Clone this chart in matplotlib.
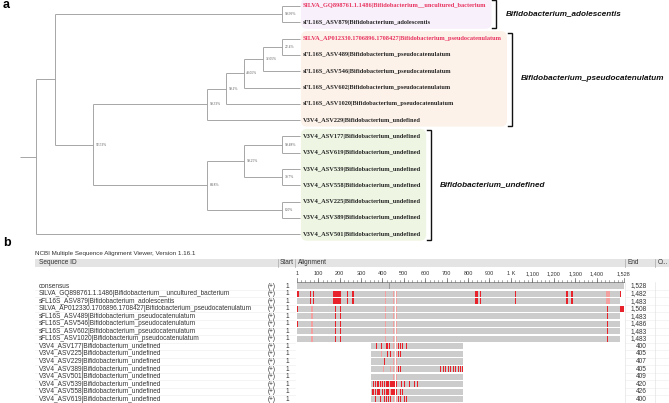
import matplotlib
matplotlib.use("Agg")
import matplotlib.pyplot as plt
from matplotlib import transforms
from matplotlib.patches import FancyBboxPatch

W, H = 669, 403

# ---------------- panel a : tree ----------------
leaf_names = [
    "SILVA_GQ898761.1.1486|Bifidobacterium__uncultured_bacterium",
    "sFL16S_ASV879|Bifidobacterium_adolescentis",
    "SILVA_AP012330.1706896.1708427|Bifidobacterium_pseudocatenulatum",
    "sFL16S_ASV489|Bifidobacterium_pseudocatenulatum",
    "sFL16S_ASV546|Bifidobacterium_pseudocatenulatum",
    "sFL16S_ASV602|Bifidobacterium_pseudocatenulatum",
    "sFL16S_ASV1020|Bifidobacterium_pseudocatenulatum",
    "V3V4_ASV229|Bifidobacterium_undefined",
    "V3V4_ASV177|Bifidobacterium_undefined",
    "V3V4_ASV619|Bifidobacterium_undefined",
    "V3V4_ASV539|Bifidobacterium_undefined",
    "V3V4_ASV558|Bifidobacterium_undefined",
    "V3V4_ASV225|Bifidobacterium_undefined",
    "V3V4_ASV389|Bifidobacterium_undefined",
    "V3V4_ASV501|Bifidobacterium_undefined",
]
reference_leaves = [0, 2]

# (node depth, bootstrap, children) ; an int child is a leaf index
tree = (0.0, None, [
    (1.01, None, [
        (13.09, "99.99%", [0, 1]),
        (3.03, "92.53%", [
            (9.10, "99.33%", [
                (10.11, "99.1%", [
                    (11.06, "48.05%", [
                        (12.07, "32.05%", [
                            (13.09, "22.4%", [2, 3]), 4]), 5]), 6]), 7]),
            (9.10, "84.8%", [
                (11.06, "99.25%", [
                    (13.09, "99.48%", [8, 9]),
                    (13.09, "30.7%", [10, 11])]),
                (13.09, "100%", [12, 13])])])]),
    14])
tip_depth = 14.04
root_stub = -0.85

group_names = ["Bifidobacterium_adolescentis",
               "Bifidobacterium_pseudocatenulatum",
               "Bifidobacterium_undefined"]
group_leaves = [(0, 1), (2, 7), (8, 14)]
group_fill = ["#f8f0fb", "#fdf2e9", "#eef6e3"]

# ---------------- panel b : alignment ----------------
aln_len = 1528
msa_ids = ["consensus",
           "SILVA_GQ898761.1.1486|Bifidobacterium__uncultured_bacterium",
           "sFL16S_ASV879|Bifidobacterium_adolescentis",
           "SILVA_AP012330.1706896.1708427|Bifidobacterium_pseudocatenulatum",
           "sFL16S_ASV489|Bifidobacterium_pseudocatenulatum",
           "sFL16S_ASV546|Bifidobacterium_pseudocatenulatum",
           "sFL16S_ASV602|Bifidobacterium_pseudocatenulatum",
           "sFL16S_ASV1020|Bifidobacterium_pseudocatenulatum",
           "V3V4_ASV177|Bifidobacterium_undefined",
           "V3V4_ASV225|Bifidobacterium_undefined",
           "V3V4_ASV229|Bifidobacterium_undefined",
           "V3V4_ASV389|Bifidobacterium_undefined",
           "V3V4_ASV501|Bifidobacterium_undefined",
           "V3V4_ASV539|Bifidobacterium_undefined",
           "V3V4_ASV558|Bifidobacterium_undefined",
           "V3V4_ASV619|Bifidobacterium_undefined"]
msa_start = [1] * 16
msa_end = [1528, 1482, 1483, 1508, 1483, 1486, 1483, 1483,
           400, 405, 407, 405, 409, 420, 426, 400]
# aligned column range covered by each row
msa_span = [(1, 1528), (1, 1510), (1, 1510), (1, 1528), (1, 1510), (1, 1510), (1, 1510), (1, 1510),
            (347, 778), (347, 778), (347, 778), (347, 778), (347, 778), (347, 778), (347, 778), (347, 778)]
gap_cols = (457, 461)
ruler_ticks = [1, 100, 200, 300, 400, 500, 600, 700, 800, 900, 1000, 1100, 1200, 1300, 1400, 1528]
ruler_labels = ["1", "100", "200", "300", "400", "500", "600", "700", "800", "900",
                "1 K", "1,100", "1,200", "1,300", "1,400", "1,528"]

full_common = [(63, 63), (77, 77), (171, 207), (238, 238), (260, 260), (264, 264),
               (833, 833), (841, 841), (856, 856), (1020, 1020),
               (1258, 1258), (1266, 1266), (1285, 1285)]
pseudo_common = [(178, 178), (202, 202), (1452, 1452)]
mism_strong = [
    [],
    [(1, 1), (9, 9)] + full_common + [(1510, 1510)],
    full_common,
    [(1, 1)] + pseudo_common + [(1510, 1528)],
    pseudo_common,
    [(1, 1)] + pseudo_common,
    pseudo_common,
    pseudo_common,
    [(370, 370), (397, 397), (417, 417), (423, 423), (432, 432), (474, 474), (482, 482), (494, 494), (513, 513)],
    [(423, 423), (436, 436), (474, 474), (482, 482)],
    [(408, 408)],
    [(474, 474), (485, 485), (672, 672), (685, 685), (696, 696), (708, 708), (719, 719),
     (731, 731), (742, 742), (753, 753), (762, 762), (772, 772)],
    [],
    [(358, 358), (366, 366), (374, 374), (381, 381), (389, 389), (400, 400), (411, 411),
     (419, 432), (438, 470), (488, 488), (503, 503), (524, 524), (547, 547), (563, 563)],
    [(355, 362), (368, 372), (378, 389), (400, 400), (411, 411), (419, 432), (443, 470),
     (482, 482), (494, 494)],
    [(366, 366), (389, 389), (411, 411), (419, 419), (428, 428), (436, 436), (474, 474),
     (485, 485), (503, 503), (513, 513)],
]
full_faint = [(412, 412), (452, 452), (466, 466)]
mism_faint = [
    [],
    full_faint + [(1445, 1464)],
    full_faint + [(1445, 1464)],
    [(70, 70)] + full_faint,
    [(70, 70)] + full_faint,
    [(70, 70)] + full_faint,
    [(70, 70)] + full_faint,
    [(70, 70)] + full_faint,
    [(452, 452), (466, 466)],
    [(397, 397), (452, 452), (466, 466)],
    [(452, 452), (466, 466)],
    [(406, 406), (436, 436), (452, 452), (466, 466)],
    [(452, 452), (466, 466)],
    [(395, 395)],
    [(436, 436)],
    [(452, 452), (466, 466)],
]
consensus_marks = [432]

# ---------------- figure ----------------
fig = plt.figure(figsize=(W / 100, H / 100), dpi=100)
fig.patch.set_facecolor("white")

# pixel overlay axes for frames / headers
ax_px = fig.add_axes([0, 0, 1, 1])
ax_px.set_xlim(0, W)
ax_px.set_ylim(H, 0)
ax_px.axis("off")

# tree axes: x = node depth, y = leaf index
X0, SX, Y0, SY = 36, 18.8, 6, 16.3
ax_t = fig.add_axes([0, 0, 1, 1])
ax_t.set_xlim(-X0 / SX, (W - X0) / SX)
ax_t.set_ylim((H - Y0) / SY, -Y0 / SY)
ax_t.axis("off")

line_kw = dict(color="#a0a0a0", lw=0.65, solid_capstyle="butt", zorder=3)
sup_tr = transforms.offset_copy(ax_t.transData, fig=fig, x=2.5, y=0, units="dots")
tip_tr = transforms.offset_copy(ax_t.transData, fig=fig, x=3, y=0, units="dots")


def draw_node(node, parent_depth):
    if isinstance(node, int):
        ax_t.plot([parent_depth, tip_depth], [node, node], **line_kw)
        return node
    depth, support, kids = node
    ys = [draw_node(k, depth) for k in kids]
    y = (ys[0] + ys[-1]) / 2
    ax_t.plot([depth, depth], [ys[0], ys[-1]], **line_kw)
    ax_t.plot([parent_depth, depth], [y, y], **line_kw)
    if support:
        ax_t.text(depth, y, support, transform=sup_tr, fontsize=2.6, color="#555555",
                  family="Liberation Serif", va="center", ha="left", zorder=4)
    return y


draw_node(tree, root_stub)

leaf_texts = []
for i, name in enumerate(leaf_names):
    t = ax_t.text(tip_depth, i, name, transform=tip_tr, fontsize=4.6, fontweight="bold",
                  family="Liberation Serif", va="center", ha="left",
                  color="#e8335f" if i in reference_leaves else "#262626", zorder=4)
    leaf_texts.append(t)

fig.canvas.draw()
renderer = fig.canvas.get_renderer()
to_disp = ax_t.transData.transform
tip_px = to_disp((tip_depth, 0))[0]
for gname, (a, b), fill in zip(group_names, group_leaves, group_fill):
    right = max(leaf_texts[k].get_window_extent(renderer).x1 for k in range(a, b + 1)) + 5
    top = H - to_disp((tip_depth, a))[1] - 7.5
    bot = H - to_disp((tip_depth, b))[1] + 6.5
    left = tip_px + 1
    ax_px.add_patch(FancyBboxPatch((left, top), right - left, bot - top,
                                   boxstyle="round,pad=0,rounding_size=6",
                                   fc=fill, ec="none", zorder=0))
    bx = right + 5
    ax_px.plot([bx - 4, bx, bx, bx - 4], [top + 1.5, top + 1.5, bot - 0.5, bot - 0.5],
               color="#111111", lw=1.0, solid_joinstyle="miter")
    ax_px.text(bx + 9, (top + bot) / 2, gname, fontsize=5.9, fontweight="bold",
               fontstyle="italic", family="Liberation Sans", va="center", ha="left",
               color="#111111")

ax_px.text(3, 5, "a", fontsize=9, fontweight="bold", family="Liberation Sans",
           va="center", ha="left")
ax_px.text(3, 243, "b", fontsize=9, fontweight="bold", family="Liberation Sans",
           va="center", ha="left")

# ---------------- panel b ----------------
A0, SA, R0, SR = 297, (624 - 297) / aln_len, 286, 7.55
ax_a = fig.add_axes([0, 0, 1, 1])
ax_a.set_xlim(0.5 - A0 / SA, 0.5 + (W - A0) / SA)
ax_a.set_ylim((H - R0) / SR, -R0 / SR)
ax_a.axis("off")

txt_kw = dict(fontsize=4.7, family="Liberation Sans", color="#333333", va="center")
ax_px.text(35, 253, "NCBI Multiple Sequence Alignment Viewer, Version 1.16.1", ha="left",
           **dict(txt_kw, fontsize=4.5))

# header band
ax_px.add_patch(plt.Rectangle((35, 259), W - 35, 8, fc="#e4e4e4", ec="none", zorder=0))
for sx in [278, 295, 625, 655]:
    ax_px.plot([sx, sx], [259, 267], color="#a8a8a8", lw=0.5)
ax_px.text(39, 263, "Sequence ID", ha="left", **txt_kw)
ax_px.text(280, 263, "Start", ha="left", **txt_kw)
ax_px.text(298, 263, "Alignment", ha="left", **txt_kw)
ax_px.text(628, 263, "End", ha="left", **txt_kw)
ax_px.text(658, 263, "O...", ha="left", **txt_kw)

# ruler
ruler_tr = transforms.blended_transform_factory(ax_a.transData, ax_px.transData)
ax_a.plot([1, aln_len], [282, 282], color="#666666", lw=0.5, transform=ruler_tr)
for c in range(20, aln_len, 20):
    ax_a.plot([c, c], [282, 280.3], color="#666666", lw=0.4, transform=ruler_tr)
for c, lab in zip(ruler_ticks, ruler_labels):
    ax_a.plot([c, c], [282, 278], color="#666666", lw=0.5, transform=ruler_tr)
    ax_a.text(c, 273.5, lab, ha="center", transform=ruler_tr,
              **dict(txt_kw, fontsize=4.0))

# rows
rows = list(range(len(msa_ids)))
row_tr = transforms.blended_transform_factory(ax_px.transData, ax_a.transData)
bar_h = 0.8
mark_w = 5
ax_a.barh(rows, [e - s + 1 for s, e in msa_span], left=[s - 0.5 for s, e in msa_span],
          height=bar_h, color="#cccccc", lw=0)
for r in rows:
    if mism_faint[r]:
        ax_a.barh([r] * len(mism_faint[r]), [max(b - a + 1, mark_w) for a, b in mism_faint[r]],
                  left=[a - 2 for a, b in mism_faint[r]], height=bar_h, color="#f2a0a0", lw=0)
    if mism_strong[r]:
        ax_a.barh([r] * len(mism_strong[r]), [max(b - a + 1, mark_w) for a, b in mism_strong[r]],
                  left=[a - 2 for a, b in mism_strong[r]], height=bar_h, color="#e8222a", lw=0)
ax_a.barh(rows[1:], gap_cols[1] - gap_cols[0] + 1, left=gap_cols[0] - 0.5,
          height=bar_h + 0.05, color="white", lw=0)
ax_a.barh([0] * len(consensus_marks), 4, left=[c - 2 for c in consensus_marks],
          height=bar_h, color="#9a9a9a", lw=0)

for r in rows:
    ax_px.text(39, r, msa_ids[r], ha="left", transform=row_tr, **txt_kw)
    ax_px.text(272, r, "(+)", ha="center", transform=row_tr, **txt_kw)
    ax_px.text(287, r, str(msa_start[r]), ha="center", transform=row_tr, **txt_kw)
    ax_px.text(647, r, f"{msa_end[r]:,}", ha="right", transform=row_tr, **txt_kw)
    for x0, x1 in [(35, 295), (625, W)]:
        ax_px.plot([x0, x1], [r + 0.5, r + 0.5], color="#ececec", lw=0.4, transform=row_tr)
for sx in [625, 655]:
    ax_px.plot([sx, sx], [-0.5, len(rows) - 0.5], color="#dddddd", lw=0.4, transform=row_tr)

fig.savefig("out.png", dpi=100, facecolor="white")
